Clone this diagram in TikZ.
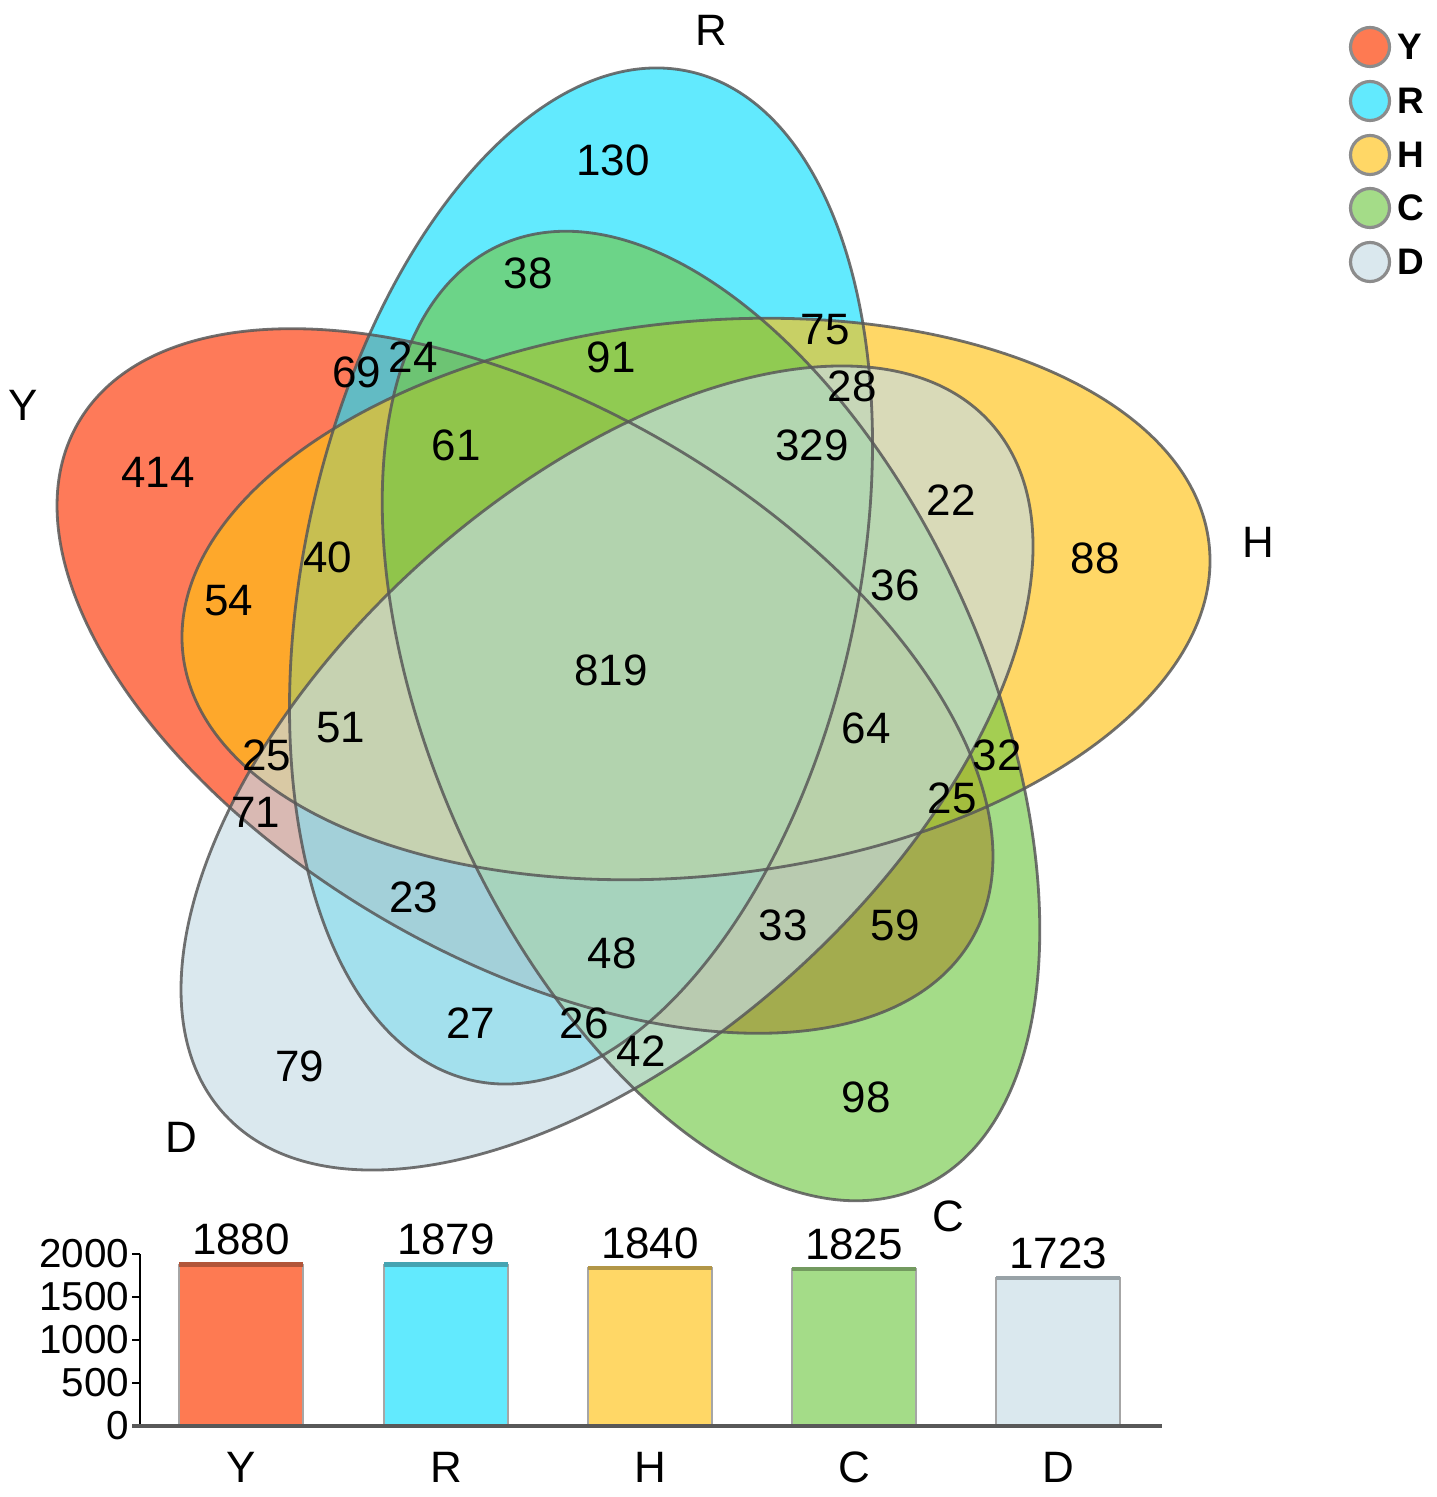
\documentclass[tikz,border=0pt]{standalone}
\usepackage{fontspec}
\setmainfont{Liberation Sans}
\usepackage{tikz}
\usetikzlibrary{calc}

\definecolor{colY}{RGB}{254,50,0}
\definecolor{colR}{RGB}{14,223,254}
\definecolor{colH}{RGB}{255,194,20}
\definecolor{colC}{RGB}{115,201,72}
\definecolor{colD}{RGB}{198,220,229}
\definecolor{keyY}{RGB}{254,122,82}
\definecolor{keyR}{RGB}{98,234,254}
\definecolor{keyH}{RGB}{255,215,102}
\definecolor{keyC}{RGB}{164,220,136}
\definecolor{keyD}{RGB}{218,232,238}
\definecolor{edge}{RGB}{88,88,88}

\begin{document}
\begin{tikzpicture}[x=0.01cm,y=-0.01cm,
  set/.style={fill opacity=0.65},
  rim/.style={draw=edge,line width=0.8pt,draw opacity=0.85},
  num/.style={font=\fontsize{12.5}{14}\selectfont,inner sep=0pt},
  key/.style={circle,draw=gray!90,line width=0.9pt,minimum size=0.39cm,inner sep=0pt},
  keytext/.style={font=\fontsize{10.5}{12}\selectfont\bfseries,anchor=west,inner sep=0pt},
  bar/.style={draw=gray!70,line width=0.4pt},
  tick/.style={font=\fontsize{11.5}{13}\selectfont,anchor=east,inner sep=0pt}]
\useasboundingbox (0,0) rectangle (1436,1497);

\coordinate (cY) at (525,681);
\coordinate (cR) at (581,576);
\coordinate (cH) at (696,599);
\coordinate (cC) at (711,716);
\coordinate (cD) at (607,768);

\fill[set,fill=colY,rotate around={150:(cY)}] (cY) ellipse [x radius=516,y radius=277];
\fill[set,fill=colR,rotate around={78:(cR)}] (cR) ellipse [x radius=516,y radius=277];
\fill[set,fill=colH,rotate around={6:(cH)}] (cH) ellipse [x radius=516,y radius=277];
\fill[set,fill=colC,rotate around={294:(cC)}] (cC) ellipse [x radius=516,y radius=277];
\fill[set,fill=colD,rotate around={222:(cD)}] (cD) ellipse [x radius=516,y radius=277];
\draw[rim,rotate around={150:(cY)}] (cY) ellipse [x radius=516,y radius=277];
\draw[rim,rotate around={78:(cR)}] (cR) ellipse [x radius=516,y radius=277];
\draw[rim,rotate around={6:(cH)}] (cH) ellipse [x radius=516,y radius=277];
\draw[rim,rotate around={294:(cC)}] (cC) ellipse [x radius=516,y radius=277];
\draw[rim,rotate around={222:(cD)}] (cD) ellipse [x radius=516,y radius=277];

\node[num] (labR) at (711,30) {R};
\node[num] (labY) at (23,405) {Y};
\node[num] (labH) at (1258,542) {H};
\node[num] (labD) at (181,1137) {D};
\node[num] (labC) at (948,1216) {C};

\node[num] (n130) at (613,160) {130};
\node[num] (n38) at (528,273) {38};
\node[num] (n69) at (357,372) {69};
\node[num] (n24) at (413,357) {24};
\node[num] (n91) at (611,357) {91};
\node[num] (n75) at (825,330) {75};
\node[num] (n28) at (852,386) {28};
\node[num] (n329) at (812,445) {329};
\node[num] (n414) at (158,472) {414};
\node[num] (n61) at (456,445) {61};
\node[num] (n22) at (951,500) {22};
\node[num] (n88) at (1095,558) {88};
\node[num] (n40) at (328,557) {40};
\node[num] (n54) at (229,601) {54};
\node[num] (n36) at (895,585) {36};
\node[num] (n819) at (611,670) {819};
\node[num] (n51) at (341,728) {51};
\node[num] (n64) at (866,728) {64};
\node[num] (n25a) at (267,755) {25};
\node[num] (n32) at (997,755) {32};
\node[num] (n25b) at (952,798) {25};
\node[num] (n71) at (256,812) {71};
\node[num] (n23) at (414,897) {23};
\node[num] (n33) at (783,925) {33};
\node[num] (n59) at (895,925) {59};
\node[num] (n48) at (612,953) {48};
\node[num] (n27) at (471,1023) {27};
\node[num] (n26) at (584,1023) {26};
\node[num] (n42) at (641,1051) {42};
\node[num] (n79) at (300,1066) {79};
\node[num] (n98) at (866,1097) {98};

\node[key,fill=keyY] (kY) at (1370,47) {};
\node[key,fill=keyR] (kR) at (1370,101) {};
\node[key,fill=keyH] (kH) at (1370,155) {};
\node[key,fill=keyC] (kC) at (1370,208) {};
\node[key,fill=keyD] (kD) at (1370,262) {};
\node[keytext] at (1397,47) (tY) {Y};
\node[keytext] at (1397,101) (tR) {R};
\node[keytext] at (1397,155) (tH) {H};
\node[keytext] at (1397,208) (tC) {C};
\node[keytext] at (1397,262) (tD) {D};

\coordinate (bY) at (241,1264.3);
\coordinate (bR) at (446,1264.4);
\coordinate (bH) at (650,1267.8);
\coordinate (bC) at (854,1269.1);
\coordinate (bD) at (1058,1277.8);

\filldraw[bar,fill=keyY] ($(bY)+(-62,0)$) rectangle (303,1426);
\filldraw[bar,fill=keyR] ($(bR)+(-62,0)$) rectangle (508,1426);
\filldraw[bar,fill=keyH] ($(bH)+(-62,0)$) rectangle (712,1426);
\filldraw[bar,fill=keyC] ($(bC)+(-62,0)$) rectangle (916,1426);
\filldraw[bar,fill=keyD] ($(bD)+(-62,0)$) rectangle (1120,1426);
\draw[keyY!70!black,line width=1.3pt] ($(bY)+(-62,0)$)--($(bY)+(62,0)$) node[num,above=2pt,midway,text=black] (vY) {1880};
\draw[keyR!70!black,line width=1.3pt] ($(bR)+(-62,0)$)--($(bR)+(62,0)$) node[num,above=2pt,midway,text=black] (vR) {1879};
\draw[keyH!70!black,line width=1.3pt] ($(bH)+(-62,0)$)--($(bH)+(62,0)$) node[num,above=2pt,midway,text=black] (vH) {1840};
\draw[keyC!70!black,line width=1.3pt] ($(bC)+(-62,0)$)--($(bC)+(62,0)$) node[num,above=2pt,midway,text=black] (vC) {1825};
\draw[keyD!70!black,line width=1.3pt] ($(bD)+(-62,0)$)--($(bD)+(62,0)$) node[num,above=2pt,midway,text=black] (vD) {1723};

\draw[black,line width=0.7pt] (140,1254)--(140,1426);
\draw[black,line width=0.7pt] (132,1254)--(140,1254);
\draw[black,line width=0.7pt] (132,1297)--(140,1297);
\draw[black,line width=0.7pt] (132,1340)--(140,1340);
\draw[black,line width=0.7pt] (132,1383)--(140,1383);
\draw[edge,line width=1.3pt] (132,1426)--(1162,1426);
\node[tick] (t2000) at (130,1254) {2000};
\node[tick] (t1500) at (130,1297) {1500};
\node[tick] (t1000) at (130,1340) {1000};
\node[tick] (t500) at (130,1383) {500};
\node[tick] (t0) at (130,1426) {0};

\node[num] (xY) at (241,1467) {Y};
\node[num] (xR) at (446,1467) {R};
\node[num] (xH) at (650,1467) {H};
\node[num] (xC) at (854,1467) {C};
\node[num] (xD) at (1058,1467) {D};
\end{tikzpicture}
\end{document}
